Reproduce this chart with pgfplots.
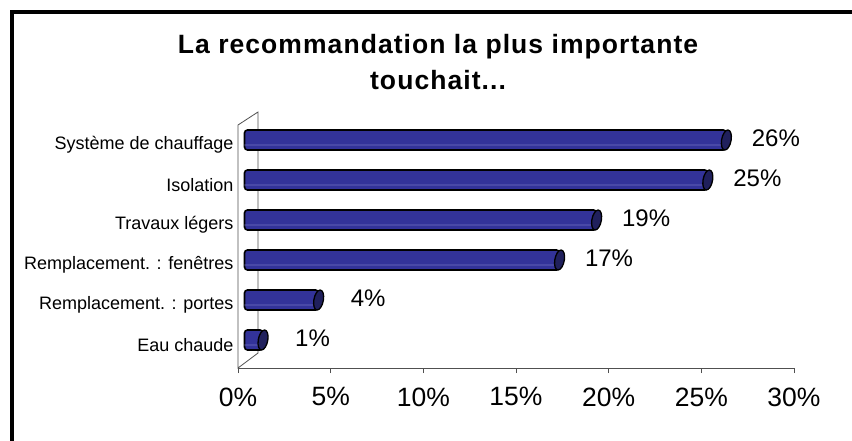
\documentclass[border=0pt]{standalone}
\usepackage{fontspec}
\setmainfont{Liberation Sans}
\newfontfamily\titlefont[LetterSpace=4]{Liberation Sans Bold}
\usepackage{pgfplots}
\usepackage{pgfplotstable}
\pgfplotsset{compat=1.18}
\definecolor{barblue}{RGB}{51,51,153}
\definecolor{capblue}{RGB}{32,32,92}
\definecolor{hilite}{RGB}{115,115,195}
\definecolor{wallgray}{RGB}{80,80,80}
\pgfdeclareplotmark{barcap}{%
  \pgfpathellipse{\pgfpointorigin}{\pgfpoint{4.8pt}{0pt}}{\pgfpoint{1.5pt}{10pt}}%
  \pgfusepathqfillstroke}

\pgfplotstableread{
y v
0 1
1 4
2 17
3 19
4 25
5 26
}\datatable

\begin{document}
\begin{tikzpicture}[x=1pt,y=1pt]
\useasboundingbox (0,0) rectangle (852,440);
\begin{scope}
\clip (0,0) rectangle (852,440);
\draw[line width=4pt] (12,-20) -- (12,428) -- (880,428);
\end{scope}
\node[anchor=base, inner sep=0pt, font=\titlefont\fontsize{26.5}{30}\selectfont] at (438,386.7) {La recommandation la plus importante};
\node[anchor=base, inner sep=0pt, font=\titlefont\fontsize{26.5}{30}\selectfont] at (438,350.7) {touchait...};
\draw[wallgray, line width=0.8pt] (238,72) -- (238,315) -- (258,328) -- (258,87) -- cycle;
\begin{axis}[
  at={(238pt,72pt)}, anchor=south west,
  scale only axis, width=556pt, height=243pt,
  xmin=0, xmax=30, ymin=-0.7, ymax=5.375,
  clip=false,
  axis line style={draw=none},
  tick pos=left, tick align=outside, major tick length=5pt,
  xtick={0,5,...,30},
  xticklabel={\pgfmathprintnumber{\tick}\%},
  /pgf/number format/assume math mode=true,
  xticklabel style={font=\fontsize{26.5}{30}\selectfont, yshift=-11pt},
  x tick style={wallgray, line width=0.8pt},
  ytick={0,...,5},
  yticklabels={Eau chaude, Remplacement. : portes, Remplacement. : fenêtres, Travaux légers\hspace{5pt}, Isolation, Système de chauffage},
  y tick style={draw=none},
  yticklabel style={font=\fontsize{18}{21}\selectfont, yshift=-5pt, xshift=4pt},
]
\addplot[xbar, bar width=20pt, bar shift=0pt, fill=barblue, draw=black, line width=1.6pt, rounded corners=3pt, xshift=6.5pt] table[x=v,y=y] {\datatable};
\addplot[xbar, bar width=0.8pt, bar shift=-5pt, fill=hilite, draw=none, xshift=6.5pt] table[x=v,y=y] {\datatable};
\addplot[only marks, mark=barcap, mark options={fill=capblue, draw=black, line width=1.3pt}, xshift=6.5pt] table[x=v,y=y] {\datatable};
\addplot[draw=none, mark=none, point meta=x,
  nodes near coords={\pgfmathprintnumber{\pgfplotspointmeta}\%},
  nodes near coords style={anchor=center, xshift=56pt, yshift=2pt, font=\fontsize{24}{28}\selectfont}] table[x=v,y=y] {\datatable};
\draw[wallgray, line width=1pt] (rel axis cs:0,0) -- (rel axis cs:1,0);
\end{axis}
\end{tikzpicture}
\end{document}
